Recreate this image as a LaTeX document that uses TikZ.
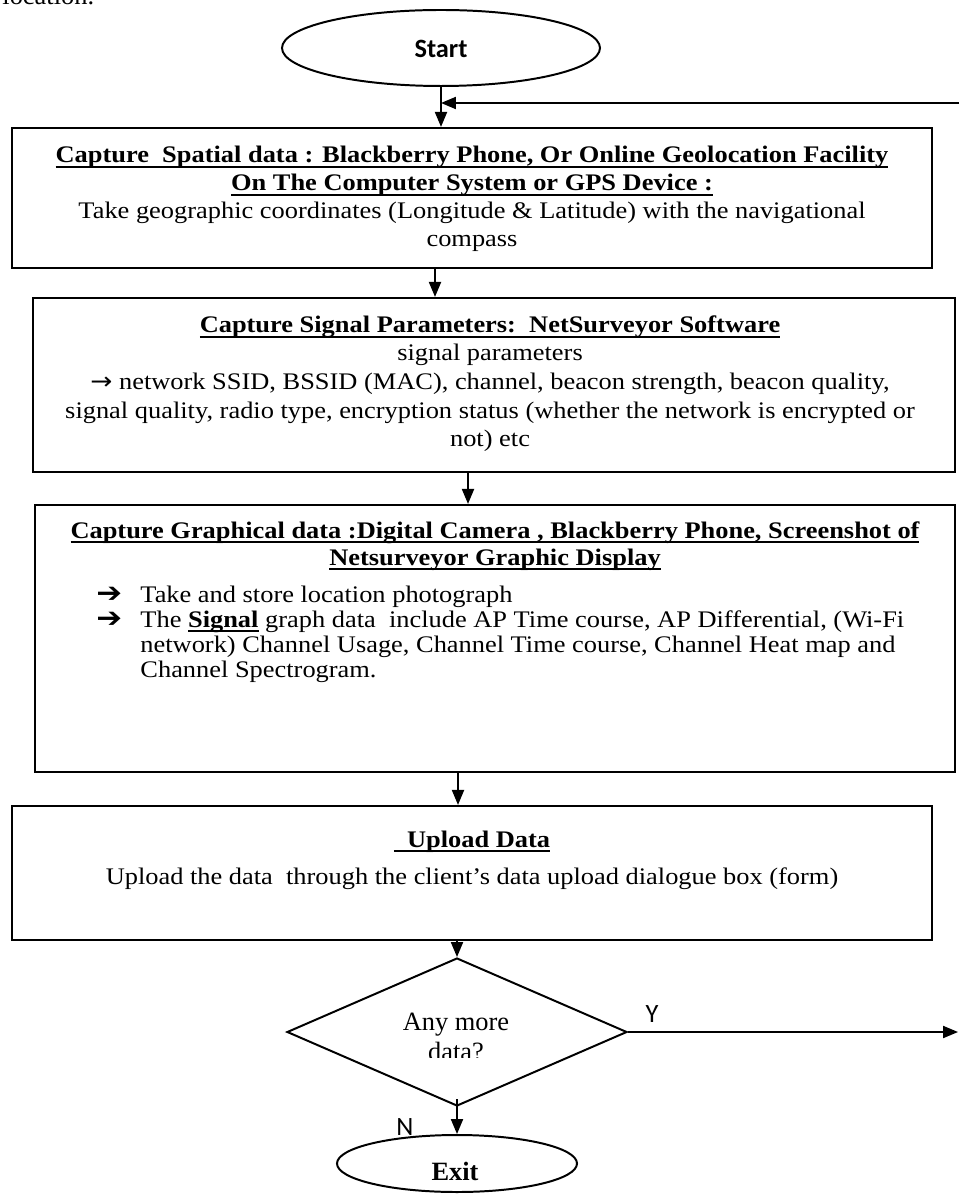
\documentclass[tikz,border=0pt]{standalone}
\usepackage{graphicx}
\usepackage{fontspec}
\setmainfont{Liberation Serif}
\newfontfamily\calibri{Carlito}
\newfontfamily\dejavu{DejaVu Sans}
\usetikzlibrary{shapes.geometric,arrows.meta}

% underline drawn as a rule under a boxed piece of text
\newsavebox{\undlbox}
\newcommand{\undl}[1]{\leavevmode\sbox{\undlbox}{#1}\rlap{\rule[-2.6pt]{\wd\undlbox}{1pt}}\usebox{\undlbox}}
% box text is set slightly flattened
\newcommand{\sq}[1]{\scalebox{1}[0.9]{#1}}

\begin{document}
\begin{tikzpicture}[
  x=0.4545pt, y=-0.4545pt,
  procbox/.style={draw, rectangle, line width=1pt, inner sep=0pt},
  term/.style={draw, ellipse, line width=0.9pt, inner sep=0pt},
  txt/.style={inner sep=0pt, anchor=base, font=\fontsize{12}{14}\selectfont},
  hd/.style={inner sep=0pt, anchor=base, font=\fontsize{12}{14}\selectfont\bfseries},
  sans/.style={inner sep=0pt, anchor=base, font=\fontsize{12}{14}\selectfont\calibri},
  bul/.style={inner sep=0pt, anchor=base west, font=\fontsize{14}{14}\selectfont\dejavu},
  conn/.style={line width=0.75pt, -{Triangle[length=6.8pt,width=5.5pt]}}
]
\useasboundingbox (0,0) rectangle (959,1194);

% line of running text above the chart
\node[txt, anchor=base west] (loc) at (2,5) {location.};

% terminals
\node[term, minimum width={318*0.4545pt}, minimum height={76*0.4545pt}] (start) at (441,48) {};
\node[sans, font=\fontsize{12}{14}\selectfont\calibri\bfseries] (starttxt) at (441,58) {Start};

% process boxes
\node[procbox, minimum width={920*0.4545pt}, minimum height={140*0.4545pt}] (box1) at (472,198) {};
\node[procbox, minimum width={922*0.4545pt}, minimum height={174*0.4545pt}] (box2) at (494,385) {};
\node[procbox, minimum width={920*0.4545pt}, minimum height={267*0.4545pt}] (box3) at (495,638.5) {};
\node[procbox, minimum width={920*0.4545pt}, minimum height={134*0.4545pt}] (upload) at (472,873) {};

% decision
\node[draw, diamond, line width=0.9pt, inner sep=0pt,
      minimum width={340*0.4545pt}, minimum height={148*0.4545pt}] (dec) at (457,1032) {};

\node[term, minimum width={240*0.4545pt}, minimum height={57*0.4545pt}] (exit) at (457,1163.5) {};
\node[hd] (exittxt) at (455,1180) {Exit};

% box 1 text
\node[hd] (b1a) at (472,163) {\sq{\undl{Capture\ \ Spatial data : Blackberry Phone, Or Online Geolocation Facility}}};
\node[hd] (b1b) at (472,191) {\sq{\undl{On The Computer System or GPS Device :}}};
\node[txt] (b1c) at (472,219) {\sq{Take geographic coordinates (Longitude \& Latitude) with the navigational}};
\node[txt] (b1d) at (472,247) {\sq{compass}};

% box 2 text
\node[hd] (b2a) at (490,333) {\sq{\undl{Capture Signal Parameters:\ \ NetSurveyor Software}}};
\node[txt] (b2b) at (490,361) {\sq{signal parameters}};
\node[txt] (b2c) at (490,390) {\sq{{\dejavu →} network SSID, BSSID (MAC), channel, beacon strength, beacon quality,}};
\node[txt] (b2d) at (490,419) {\sq{signal quality, radio type, encryption status (whether the network is encrypted or}};
\node[txt] (b2e) at (490,447) {\sq{not) etc}};

% box 3 text
\node[hd] (b3a) at (495,538) {\sq{\undl{Capture Graphical data :Digital Camera , Blackberry Phone, Screenshot of}}};
\node[hd] (b3b) at (495,565) {\sq{\undl{Netsurveyor Graphic Display}}};
\node[bul] (bul1) at (96,602) {\sq{➔}};
\node[txt, anchor=base west] (b3c) at (140,602) {\sq{Take and store location photograph}};
\node[bul] (bul2) at (96,627) {\sq{➔}};
\node[txt, anchor=base west] (b3d) at (140,627) {\sq{The \undl{\bfseries Signal} graph data\ \ include AP Time course, AP Differential, (Wi-Fi}};
\node[txt, anchor=base west] (b3e) at (140,652) {\sq{network) Channel Usage, Channel Time course, Channel Heat map and}};
\node[txt, anchor=base west] (b3f) at (140,677) {\sq{Channel Spectrogram.}};

% upload text
\node[hd] (upa) at (472,847) {\sq{\undl{\ \ Upload Data}}};
\node[txt] (upb) at (472,884) {\sq{Upload the data\ \ through the client’s data upload dialogue box (form)}};

% decision text (second line cut by its text frame)
\node[txt] (dq1) at (456,1030) {Any more};
\begin{scope}
  \clip (300,1000) rectangle (620,1057);
  \node[txt] (dq2) at (456,1060) {data?};
\end{scope}

% branch labels
\node[sans] (ylab) at (652,1022) {Y};
\node[sans] (nlab) at (405,1135) {N};

% connectors
\coordinate (x12) at (435,0);
\coordinate (x23) at (468,0);
\coordinate (x34) at (458,0);
\coordinate (fbin) at (959,103);
\coordinate (yend) at (958,0);

\draw[conn] (start.south) -- (start.south |- box1.north);
\draw[conn] (fbin) -- (fbin -| start.south);
\draw[conn] (x12 |- box1.south) -- (x12 |- box2.north);
\draw[conn] (x23 |- box2.south) -- (x23 |- box3.north);
\draw[conn] (x34 |- box3.south) -- (x34 |- upload.north);
\draw[conn] (dec.north |- upload.south) -- (dec.north);
\draw[conn] (dec.east) -- (dec.east -| yend);
\draw[conn] ([yshift=3.6pt]dec.south) -- (exit.north);
\end{tikzpicture}
\end{document}
